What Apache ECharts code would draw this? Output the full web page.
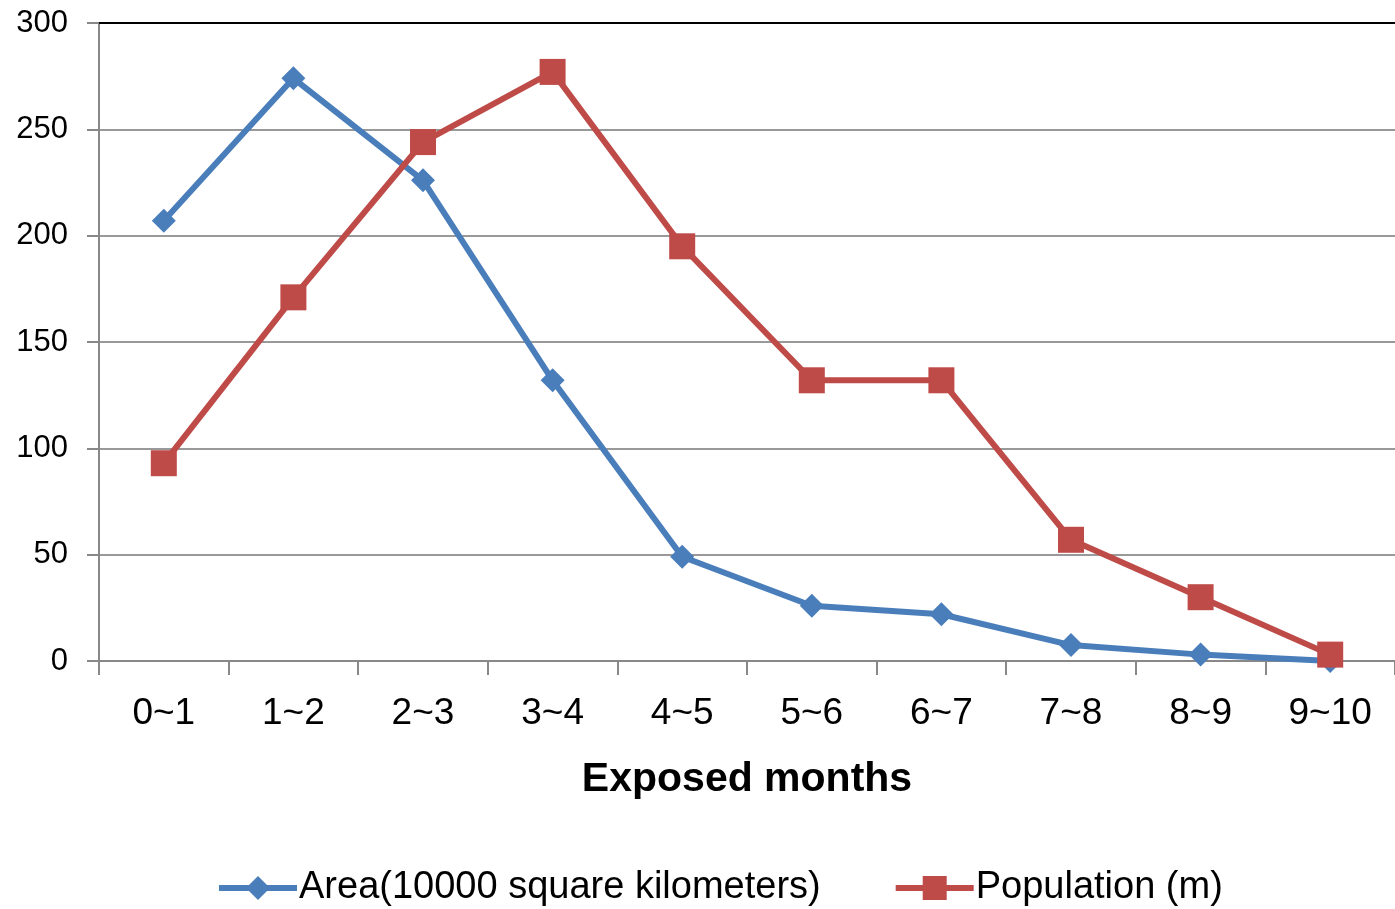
<!DOCTYPE html>
<html><head><meta charset="utf-8">
<script src="https://cdn.jsdelivr.net/npm/echarts@6/dist/echarts.min.js"></script>
<style>html,body{margin:0;padding:0;background:#fff}#c{width:1395px;height:909px}</style>
</head><body><div id="c"></div>
<script>
const categories = ['0~1','1~2','2~3','3~4','4~5','5~6','6~7','7~8','8~9','9~10'];
const areaValues = [207, 274, 226, 132, 49, 26, 22, 7.5, 3, 0];
const populationValues = [93, 171, 244, 277, 195, 132, 132, 57, 30, 3];
const yTicks = [0, 50, 100, 150, 200, 250, 300];
const FONT = 'Liberation Sans';
const chart = echarts.init(document.getElementById('c'));
chart.setOption({
  animation: false,
  textStyle: { fontFamily: FONT },
  grid: { left: 99, right: 0, top: 23, bottom: 248, containLabel: false },
  legend: {
    top: 864, left: 211, itemGap: 72, itemWidth: 78, itemHeight: 30,
    lineStyle: { width: 6 },
    textStyle: { fontSize: 38, color: '#000', fontFamily: FONT, padding: [0, 0, 0, -3] },
    data: ['Area(10000 square kilometers)', 'Population (m)']
  },
  xAxis: [{
    type: 'category', data: categories, boundaryGap: true,
    axisLine: { lineStyle: { color: '#888', width: 2 } },
    axisTick: { show: true, length: 14, lineStyle: { color: '#888', width: 2 } },
    axisLabel: { fontSize: 37, color: '#000', margin: 34 },
    name: 'Exposed months', nameLocation: 'middle', nameGap: 98,
    nameTextStyle: { fontSize: 41, fontWeight: 'bold', color: '#000' }
  }, {
    type: 'category', position: 'top', data: categories,
    axisLine: { show: true, lineStyle: { color: '#000', width: 2 } },
    axisTick: { show: false }, axisLabel: { show: false }
  }],
  yAxis: {
    type: 'value', min: 0, max: 300, interval: 50,
    axisLine: { show: true, lineStyle: { color: '#888', width: 2 } },
    axisTick: { show: true, length: 12, lineStyle: { color: '#888', width: 2 } },
    axisLabel: { fontSize: 31, color: '#000', margin: 31,
      customValues: yTicks },
    splitLine: { lineStyle: { color: '#999', width: 2 } }
  },
  series: [{
    name: 'Area(10000 square kilometers)', type: 'line', data: areaValues,
    symbol: 'diamond', symbolSize: 24,
    lineStyle: { color: '#4A7EBB', width: 6 },
    itemStyle: { color: '#4A7EBB' }, z: 3
  }, {
    name: 'Population (m)', type: 'line', data: populationValues,
    symbol: 'rect', symbolSize: 26,
    lineStyle: { color: '#BE4B48', width: 6 },
    itemStyle: { color: '#BE4B48' }, z: 4
  }]
});
</script></body></html>
